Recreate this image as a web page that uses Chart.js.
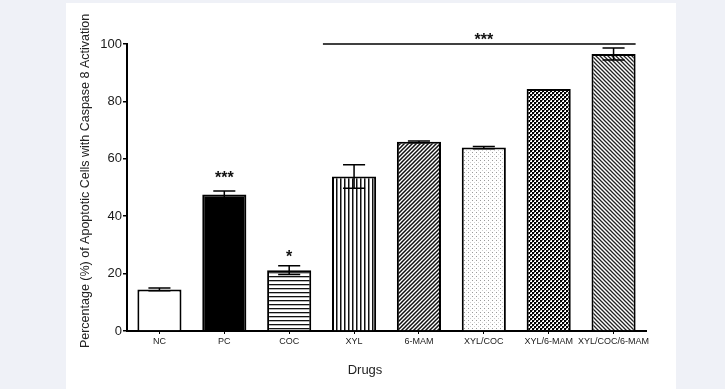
<!DOCTYPE html>
<html lang="en">
<head>
    <meta charset="UTF-8">
    <title>Caspase 8 Activation</title>
    <style>
        body {
            margin: 0;
            background-color: #eff1f7;
            width: 725px;
            height: 389px;
            overflow: hidden;
            position: relative;
        }
        #panel {
            position: absolute;
            left: 66px;
            top: 3px;
            width: 610px;
            height: 386px;
            background-color: #ffffff;
        }
        #chart {
            position: absolute;
            left: 0;
            top: 0;
        }
    </style>
</head>
<body>
    <div id="panel"></div>
    <canvas id="chart" width="725" height="389"></canvas>

    <script src="https://cdn.jsdelivr.net/npm/chart.js"></script>
    <script>
        // data
        const drugs = ['NC', 'PC', 'COC', 'XYL', '6-MAM', 'XYL/COC', 'XYL/6-MAM', 'XYL/COC/6-MAM'];
        const meanValues = [14.5, 47.6, 21.2, 53.8, 65.9, 63.9, 84.3, 96.5];
        const errValues = [0.5, 1.2, 1.5, 4.1, 0.3, 0.4, 0, 2.1];
        const yTicks = [0, 20, 40, 60, 80, 100];

        // significance marks: [category index, value at centre of the stars, text]
        const starMarks = [[1, 54.9, '***'], [2, 27.3, '*'], [5, 102.9, '***']];
        // bracket over XYL .. XYL/COC/6-MAM, in category units, at value 100
        const groupSpan = [2.52, 7.34];
        const groupLevel = 100;

        const FONT = '"Liberation Sans", Arial, sans-serif';
        const canvas = document.getElementById('chart');
        const ctx = canvas.getContext('2d');

        // little tiles for the GraphPad-like fills
        const makePattern = (size, draw) => {
            const tile = document.createElement('canvas');
            tile.width = size;
            tile.height = size;
            const g = tile.getContext('2d');
            g.fillStyle = '#ffffff';
            g.fillRect(0, 0, size, size);
            draw(g, size);
            return ctx.createPattern(tile, 'repeat');
        };

        const diagonal = (g, s, forward, width, color) => {
            g.strokeStyle = color;
            g.lineWidth = width;
            g.beginPath();
            if (forward) {
                g.moveTo(-1, s + 1); g.lineTo(s + 1, -1);
                g.moveTo(-1, 1); g.lineTo(1, -1);
                g.moveTo(s - 1, s + 1); g.lineTo(s + 1, s - 1);
            } else {
                g.moveTo(-1, -1); g.lineTo(s + 1, s + 1);
                g.moveTo(s - 1, -1); g.lineTo(s + 1, 1);
                g.moveTo(-1, s - 1); g.lineTo(1, s + 1);
            }
            g.stroke();
        };

        const fills = [
            '#ffffff',
            '#000000',
            makePattern(4, (g, s) => { g.fillStyle = '#111'; g.fillRect(0, 0, s, 1.3); }),
            makePattern(4, (g, s) => { g.fillStyle = '#111'; g.fillRect(0, 0, 1.5, s); }),
            makePattern(4, (g, s) => diagonal(g, s, true, 1.5, '#111')),
            makePattern(4, (g, s) => {
                g.fillStyle = '#9a9a9a'; g.fillRect(0, 0, 1, 1);
                g.fillStyle = '#cfcfcf'; g.fillRect(2, 2, 1, 1);
            }),
            makePattern(4, (g, s) => {
                g.fillStyle = '#000'; g.fillRect(0, 0, 2, 2); g.fillRect(2, 2, 2, 2);
                g.fillStyle = '#777'; g.fillRect(2, 0, 1, 1); g.fillRect(0, 2, 1, 1);
            }),
            makePattern(4, (g, s) => diagonal(g, s, false, 1.3, '#222'))
        ];

        const errorBars = {
            id: 'errorBars',
            afterDatasetsDraw(chart) {
                const { ctx: c, scales: { y } } = chart;
                const meta = chart.getDatasetMeta(0);
                c.save();
                c.strokeStyle = '#000';
                c.lineWidth = 1.5;
                meta.data.forEach((bar, i) => {
                    const e = errValues[i];
                    if (!e) return;
                    const x = bar.x;
                    const hi = y.getPixelForValue(meanValues[i] + e);
                    const lo = y.getPixelForValue(meanValues[i] - e);
                    const cap = bar.width * 0.25;
                    c.beginPath();
                    c.moveTo(x, lo); c.lineTo(x, hi);
                    c.moveTo(x - cap, hi); c.lineTo(x + cap, hi);
                    c.moveTo(x - cap, lo); c.lineTo(x + cap, lo);
                    c.stroke();
                });
                c.restore();
            }
        };

        const marks = {
            id: 'marks',
            afterDraw(chart) {
                const { ctx: c, scales: { x, y } } = chart;
                c.save();
                // bracket line
                c.strokeStyle = '#000';
                c.lineWidth = 1.5;
                c.beginPath();
                c.moveTo(x.getPixelForValue(groupSpan[0]), y.getPixelForValue(groupLevel));
                c.lineTo(x.getPixelForValue(groupSpan[1]), y.getPixelForValue(groupLevel));
                c.stroke();
                // stars
                c.fillStyle = '#111';
                c.font = 'bold 16px ' + FONT;
                c.textAlign = 'center';
                c.textBaseline = 'alphabetic';
                starMarks.forEach(([idx, val, txt]) => {
                    c.fillText(txt, x.getPixelForValue(idx), y.getPixelForValue(val) + 16 * 0.57);
                });
                // axis titles
                c.fillStyle = '#222';
                c.font = '13px ' + FONT;
                c.textBaseline = 'middle';
                c.fillText('Drugs', 365, 370);
                c.translate(86, 181);
                c.rotate(-Math.PI / 2);
                c.font = '12.5px ' + FONT;
                c.fillText('Percentage (%) of Apoptotic Cells with Caspase 8 Activation', 0, 0);
                c.restore();
            }
        };

        new Chart(ctx, {
            type: 'bar',
            data: {
                labels: drugs,
                datasets: [{
                    data: meanValues,
                    backgroundColor: fills,
                    borderColor: '#000',
                    borderWidth: 2,
                    barPercentage: 0.68,
                    categoryPercentage: 1
                }]
            },
            options: {
                responsive: false,
                animation: false,
                devicePixelRatio: 1,
                layout: { padding: { left: 0, top: 44, right: 79, bottom: 0 } },
                plugins: {
                    legend: { display: false },
                    tooltip: { enabled: false }
                },
                scales: {
                    x: {
                        afterFit: (scale) => { scale.height = 58; },
                        grid: {
                            offset: false,
                            drawOnChartArea: false,
                            drawTicks: true,
                            tickLength: 3,
                            color: '#000',
                            lineWidth: 1
                        },
                        border: { display: true, color: '#000', width: 2 },
                        ticks: {
                            color: '#1a1a1a',
                            padding: 2,
                            maxRotation: 0,
                            autoSkip: false,
                            font: { family: FONT, size: 9 }
                        }
                    },
                    y: {
                        min: 0,
                        max: 100,
                        afterFit: (scale) => { scale.width = 127; },
                        afterBuildTicks: (scale) => { scale.ticks = yTicks.map(v => ({ value: v })); },
                        grid: {
                            drawOnChartArea: false,
                            drawTicks: true,
                            tickLength: 4,
                            color: '#000',
                            lineWidth: 1.5
                        },
                        border: { display: true, color: '#000', width: 2 },
                        ticks: {
                            color: '#1a1a1a',
                            padding: 1,
                            font: { family: FONT, size: 13 }
                        }
                    }
                }
            },
            plugins: [errorBars, marks]
        });
    </script>
</body>
</html>
